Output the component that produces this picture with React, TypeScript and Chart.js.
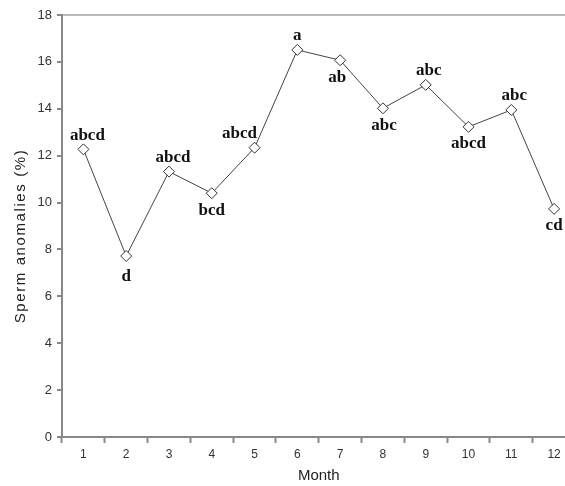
import React, { useEffect, useRef } from "react";
import { Chart, registerables } from "chart.js";

Chart.register(...registerables);

const months = ["1", "2", "3", "4", "5", "6", "7", "8", "9", "10", "11", "12"];
const anomalies = [12.27, 7.72, 11.32, 10.4, 12.34, 16.51, 16.07, 14.02, 15.02, 13.23, 13.95, 9.73];
const letters = ["abcd", "d", "abcd", "bcd", "abcd", "a", "ab", "abc", "abc", "abcd", "abc", "cd"];
const labelAbove = [true, false, true, false, true, true, false, false, true, false, true, false];
const yTitle = "Sperm anomalies (%)";

// label nudges (pixels) for the significance letters
const labelDx = [4, 0, 4, 0, -15, 0, -3, 1, 3, 0, 3, 0];

const letterPlugin = {
  id: "letters",
  afterDatasetsDraw(chart: any) {
    const ctx = chart.ctx;
    const meta = chart.getDatasetMeta(0);
    ctx.save();
    ctx.font = "bold 17px 'Liberation Serif', 'Times New Roman', serif";
    ctx.fillStyle = "#111";
    ctx.textAlign = "center";
    ctx.textBaseline = "middle";
    meta.data.forEach((pt: any, i: number) => {
      const dy = labelAbove[i] ? -14 : letters[i] === "d" ? 21 : 17;
      ctx.fillText(letters[i], pt.x + labelDx[i], pt.y + dy);
    });
    ctx.restore();
  },
};

const yTitlePlugin = {
  id: "ytitle",
  afterDraw(chart: any) {
    const ctx = chart.ctx;
    const a = chart.chartArea;
    ctx.save();
    ctx.font = "15px 'Liberation Sans', Arial, sans-serif";
    (ctx as any).letterSpacing = "1.6px";
    ctx.fillStyle = "#222";
    ctx.textAlign = "center";
    ctx.textBaseline = "middle";
    ctx.translate(21, (a.top + a.bottom) / 2 + 10);
    ctx.rotate(-Math.PI / 2);
    ctx.fillText(yTitle, 0, 0);
    ctx.restore();
  },
};

export default function App() {
  const ref = useRef<HTMLCanvasElement>(null);
  useEffect(() => {
    const chart = new Chart(ref.current!, {
      type: "line",
      data: {
        labels: months,
        datasets: [
          {
            data: anomalies,
            borderColor: "#444",
            borderWidth: 1,
            pointStyle: "rectRot",
            pointRadius: 5.5,
            pointBackgroundColor: "#fff",
            pointBorderColor: "#333",
            pointBorderWidth: 1,
            tension: 0,
          },
        ],
      },
      options: {
        responsive: false,
        animation: false,
        layout: { padding: { top: 15, right: 0, left: 0, bottom: 0 } },
        plugins: { legend: { display: false }, tooltip: { enabled: false } },
        scales: {
          x: {
            offset: true,
            grid: {
              offset: true,
              drawOnChartArea: false,
              tickLength: 6,
              tickColor: "#888",
              tickWidth: 2,
            },
            border: { color: "#888", width: 2 },
            ticks: {
              color: "#333",
              padding: 4,
              font: { family: "'Liberation Sans', Arial, sans-serif", size: 12 },
            },
            title: {
              display: true,
              text: "Month",
              color: "#222",
              padding: { top: 3, bottom: 1 },
              font: { family: "'Liberation Sans', Arial, sans-serif", size: 15 },
            },
            afterFit: (s: any) => {
              s.height = 49;
            },
          },
          y: {
            min: 0,
            max: 18,
            ticks: {
              stepSize: 2,
              color: "#333",
              padding: 5,
              font: { family: "'Liberation Sans', Arial, sans-serif", size: 13 },
            },
            grid: {
              color: (c: any) => (c.tick && c.tick.value === 18 ? "#bbb" : "rgba(0,0,0,0)"),
              lineWidth: 2,
              tickLength: 5,
              tickColor: "#888",
              tickWidth: 2,
            },
            border: { color: "#888", width: 2 },
            title: { display: false },
            afterFit: (s: any) => {
              s.width = 62;
            },
          },
        },
      },
      plugins: [letterPlugin, yTitlePlugin],
    });
    return () => chart.destroy();
  }, []);
  return (
    <div
      style={{
        position: "fixed",
        left: 0,
        top: 0,
        width: 565,
        height: 486,
        overflow: "hidden",
        background: "#fff",
      }}
    >
      <canvas ref={ref} width={582} height={486} style={{ display: "block" }} />
    </div>
  );
}
